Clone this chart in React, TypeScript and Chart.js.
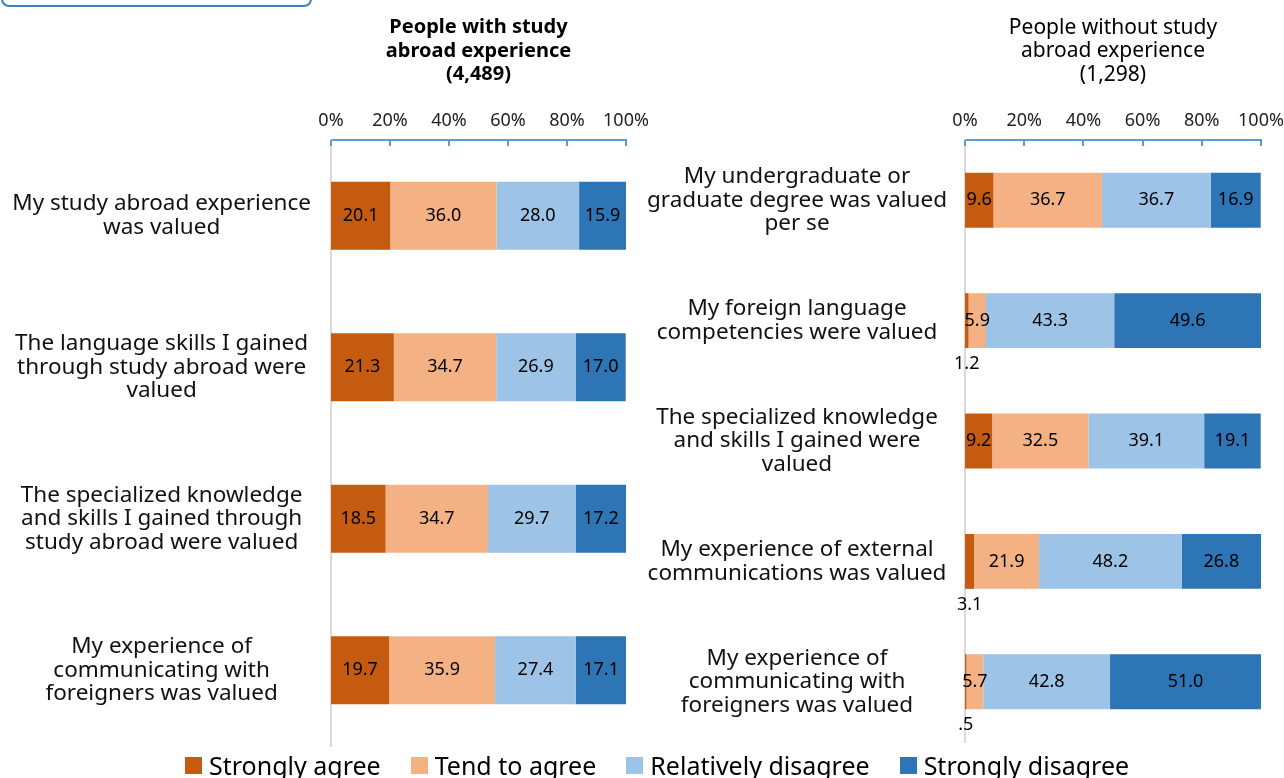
import React, { useEffect, useRef } from "react";
import { Chart, registerables } from "chart.js";

Chart.register(...registerables);

const FONT = "'Noto Sans', 'Open Sans', sans-serif";

const seriesNames = ["Strongly agree", "Tend to agree", "Relatively disagree", "Strongly disagree"];
const seriesColors = ["#c55a11", "#f4b183", "#9dc3e6", "#2e75b6"];

const xTickValues = [0, 20, 40, 60, 80, 100];

const leftTitle = ["People with study", "abroad experience", "(4,489)"];
const leftCategories = [
  ["My study abroad experience", "was valued"],
  ["The language skills I gained", "through study abroad were", "valued"],
  ["The specialized knowledge", "and skills I gained through", "study abroad were valued"],
  ["My experience of", "communicating with", "foreigners was valued"],
];
const leftStronglyAgree = [20.1, 21.3, 18.5, 19.7];
const leftTendToAgree = [36.0, 34.7, 34.7, 35.9];
const leftRelativelyDisagree = [28.0, 26.9, 29.7, 27.4];
const leftStronglyDisagree = [15.9, 17.0, 17.2, 17.1];

const rightTitle = ["People without study", "abroad experience", "(1,298)"];
const rightCategories = [
  ["My undergraduate or", "graduate degree was valued", "per se"],
  ["My foreign language", "competencies were valued"],
  ["The specialized knowledge", "and skills I gained were", "valued"],
  ["My experience of external", "communications was valued"],
  ["My experience of", "communicating with", "foreigners was valued"],
];
const rightStronglyAgree = [9.6, 1.2, 9.2, 3.1, 0.5];
const rightTendToAgree = [36.7, 5.9, 32.5, 21.9, 5.7];
const rightRelativelyDisagree = [36.7, 43.3, 39.1, 48.2, 42.8];
const rightStronglyDisagree = [16.9, 49.6, 19.1, 26.8, 51.0];

const fmt = (v: number) => {
  const s = v.toFixed(1);
  return v < 1 ? s.replace(/^0/, "") : s;
};

const labelPlugin = {
  id: "barLabels",
  afterDatasetsDraw(chart: any) {
    const { ctx, chartArea } = chart;
    ctx.save();
    ctx.font = `18px ${FONT}`;
    ctx.fillStyle = "#000";
    ctx.textAlign = "center";
    ctx.textBaseline = "middle";
    chart.data.datasets.forEach((ds: any, di: number) => {
      const meta = chart.getDatasetMeta(di);
      meta.data.forEach((el: any, i: number) => {
        const v = ds.data[i] as number;
        const p = el.getProps(["x", "y", "base", "height"], true);
        const cx = (p.x + p.base) / 2;
        if (v < 4) ctx.fillText(fmt(v), cx, p.y + p.height / 2 + 16);
        else ctx.fillText(fmt(v), cx, p.y);
      });
    });
    const xs = chart.scales.x;
    ctx.strokeStyle = "#5b9bd5";
    ctx.lineWidth = 2;
    xs.ticks.forEach((_t: any, i: number) => {
      const px = Math.round(xs.getPixelForTick(i));
      ctx.beginPath();
      ctx.moveTo(px, chartArea.top);
      ctx.lineTo(px, chartArea.top + 6);
      ctx.stroke();
    });
    ctx.restore();
  },
};

function makeConfig(
  title: string[],
  bold: boolean,
  categories: string[][],
  series: number[][],
  axisWidth: number,
  padRight: number,
  padBottom: number,
  barPct: number,
  labelPad: number
): any {
  return {
    type: "bar",
    data: {
      labels: categories,
      datasets: series.map((d, i) => ({
        label: seriesNames[i],
        data: d,
        backgroundColor: seriesColors[i],
        borderWidth: 0,
        barPercentage: barPct,
        categoryPercentage: 1,
      })),
    },
    options: {
      responsive: false,
      animation: false,
      devicePixelRatio: 1,
      indexAxis: "y",
      layout: { padding: { left: 0, right: padRight, top: 0, bottom: padBottom } },
      plugins: {
        legend: { display: false },
        tooltip: { enabled: false },
        title: {
          display: true,
          text: title,
          fullSize: false,
          color: "#000",
          font: { family: FONT, size: bold ? 20 : 21, weight: bold ? "bold" : "normal", lineHeight: "23.5px" },
          padding: { top: 16, bottom: 0 },
        },
      },
      scales: {
        x: {
          position: "top",
          stacked: true,
          min: 0,
          max: 100,
          afterBuildTicks: (s: any) => {
            s.ticks = xTickValues.map((v) => ({ value: v }));
          },
          ticks: {
            callback: (v: any) => v + "%",
            font: { family: FONT, size: 18 },
            color: "#222",
            padding: 8,
            maxRotation: 0,
            autoSkip: false,
          },
          grid: { display: false, drawTicks: false },
          border: { display: true, color: "#5b9bd5", width: 2 },
          afterFit: (s: any) => {
            s.height = 140 - 86.5;
            s.paddingLeft = 0;
            s.paddingRight = 0;
          },
        },
        y: {
          stacked: true,
          ticks: {
            crossAlign: "center",
            padding: labelPad,
            font: { family: FONT, size: 22.5, lineHeight: "23.5px" },
            color: "#111",
            autoSkip: false,
          },
          grid: { display: false, drawTicks: false },
          border: { display: true, color: "#d9d9d9", width: 2 },
          afterFit: (s: any) => {
            s.width = axisWidth;
            s.paddingTop = 0;
            s.paddingBottom = 0;
          },
        },
      },
    },
    plugins: [labelPlugin],
  };
}

function ChartCanvas({ config, width, height, left }: { config: any; width: number; height: number; left: number }) {
  const ref = useRef<HTMLCanvasElement | null>(null);
  useEffect(() => {
    if (!ref.current) return;
    const chart = new Chart(ref.current, config);
    return () => chart.destroy();
  }, [config]);
  return (
    <canvas
      ref={ref}
      width={width}
      height={height}
      style={{ position: "absolute", left, top: 0, width, height }}
    />
  );
}

const leftConfig = makeConfig(
  leftTitle,
  true,
  leftCategories,
  [leftStronglyAgree, leftTendToAgree, leftRelativelyDisagree, leftStronglyDisagree],
  331,
  34,
  32,
  0.45,
  20
);
const rightConfig = makeConfig(
  rightTitle,
  false,
  rightCategories,
  [rightStronglyAgree, rightTendToAgree, rightRelativelyDisagree, rightStronglyDisagree],
  325,
  23,
  36,
  0.456,
  18
);

export default function App() {
  return (
    <div
      style={{
        position: "absolute",
        left: 0,
        top: 0,
        width: 1284,
        height: 778,
        overflow: "hidden",
        background: "#fff",
        fontFamily: FONT,
      }}
    >
      <div
        style={{
          position: "absolute",
          left: 1,
          top: -30,
          width: 307,
          height: 33,
          border: "2px solid #3f7fc0",
          borderRadius: 8,
        }}
      />
      <ChartCanvas config={leftConfig} width={660} height={778} left={0} />
      <ChartCanvas config={rightConfig} width={644} height={778} left={640} />
      <div
        style={{
          position: "absolute",
          left: 185,
          top: 751,
          display: "flex",
          alignItems: "center",
          fontSize: 25,
          lineHeight: "28px",
          color: "#000",
          whiteSpace: "nowrap",
        }}
      >
        {seriesNames.map((n, i) => (
          <div key={n} style={{ display: "flex", alignItems: "center", marginRight: 30 }}>
            <span
              style={{
                display: "inline-block",
                width: 17,
                height: 17,
                background: seriesColors[i],
                marginRight: 7,
              }}
            />
            <span>{n}</span>
          </div>
        ))}
      </div>
    </div>
  );
}
